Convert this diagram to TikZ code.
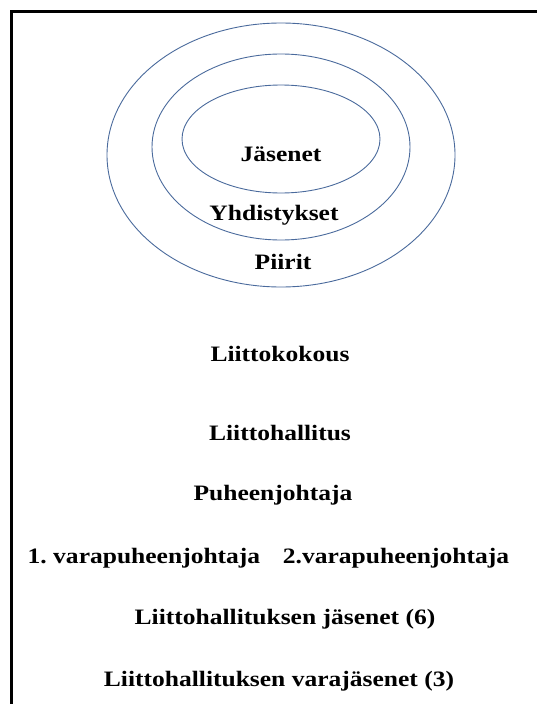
\documentclass[tikz,border=0pt]{standalone}
\usepackage{fontspec}
\setmainfont{Liberation Serif}[FakeStretch=1.16]
\frenchspacing
\definecolor{ringblue}{HTML}{4A6A9C}
\begin{document}
\begin{tikzpicture}[x=1pt,y=-1pt,
  ring/.style={draw=ringblue,line width=0.9pt},
  lbl/.style={font=\bfseries\fontsize{22}{26}\selectfont,inner sep=0pt,anchor=center}]
\useasboundingbox (0,0) rectangle (537,704);
\draw[line width=2.4pt] (11.5,704) -- (11.5,11.5) -- (537,11.5);
\draw[ring] (281,155) ellipse [x radius=174,y radius=132];
\draw[ring] (281,147) ellipse [x radius=129,y radius=93];
\draw[ring] (281,139) ellipse [x radius=99,y radius=54];
\node[lbl] (jas) at (281,154) {Jäsenet};
\node[lbl] (yhd) at (274,215) {Yhdistykset};
\node[lbl] (pii) at (283,262) {Piirit};
\node[lbl] (lk) at (280,354) {Liittokokous};
\node[lbl] (lh) at (280,433) {Liittohallitus};
\node[lbl] (pj) at (273,495) {Puheenjohtaja};
\node[lbl] (vp1) at (144,558) {1. varapuheenjohtaja};
\node[lbl] (vp2) at (396,558) {2.varapuheenjohtaja};
\node[lbl] (lhj) at (285,619) {Liittohallituksen jäsenet (6)};
\node[lbl] (lhv) at (279,681) {Liittohallituksen varajäsenet (3)};
\end{tikzpicture}
\end{document}
